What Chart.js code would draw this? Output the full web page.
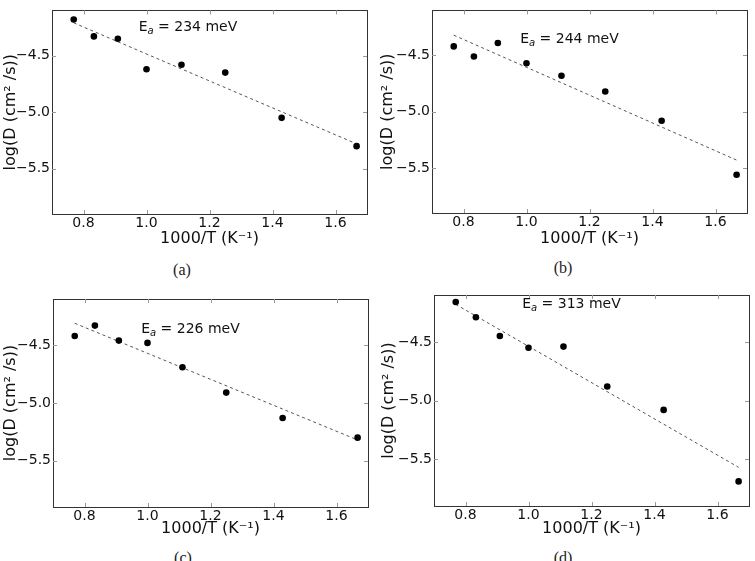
<!DOCTYPE html>
<html>
<head>
<meta charset="utf-8">
<script src="https://cdn.jsdelivr.net/npm/chart.js@4/dist/chart.umd.min.js"></script>
<style>
    body { margin: 0; background: #fff; }
    #page { position: relative; width: 755px; height: 561px; overflow: hidden; }
    .panel { position: absolute; }
    .caption { position: absolute; font-family: "Liberation Serif", "DejaVu Serif", serif; font-size: 16px; color: #222; transform: translate(-50%, -50%); }
</style>
</head>
<body>
<div id="page">
    <canvas id="chart-a" class="panel"></canvas>
    <canvas id="chart-b" class="panel"></canvas>
    <canvas id="chart-c" class="panel"></canvas>
    <canvas id="chart-d" class="panel"></canvas>
    <div class="caption" style="left:182px; top:270px;">(a)</div>
    <div class="caption" style="left:563px; top:268px;">(b)</div>
    <div class="caption" style="left:183px; top:558px;">(c)</div>
    <div class="caption" style="left:563px; top:558px;">(d)</div>
</div>
<script>
// 1000/T values (T = 1300 ... 600 K)
const invT = [0.769, 0.833, 0.909, 1.0, 1.111, 1.25, 1.429, 1.667];

// log10 D
const logD_a = [-4.18, -4.33, -4.35, -4.62, -4.58, -4.65, -5.05, -5.30];
const logD_b = [-4.42, -4.51, -4.39, -4.57, -4.68, -4.82, -5.08, -5.56];
const logD_c = [-4.42, -4.33, -4.46, -4.48, -4.69, -4.91, -5.13, -5.30];
const logD_d = [-4.16, -4.29, -4.45, -4.55, -4.54, -4.88, -5.08, -5.69];

// Arrhenius fit lines, value at first and last 1000/T
const fitX = [0.769, 1.667];
const fit_a = [-4.21, -5.28];
const fit_b = [-4.32, -5.43];
const fit_c = [-4.31, -5.32];
const fit_d = [-4.18, -5.57];

const activation = ['234', '244', '226', '313'];

const xTicks = [0.8, 1.0, 1.2, 1.4, 1.6];
const yTicks = [-4.5, -5.0, -5.5];

const xTitle = '1000/T (K\u207B\u00B9)';
const yTitle = 'log(D (cm\u00B2 /s))';

const FONT = '"DejaVu Sans", sans-serif';

// canvas placement and plot box for each panel
const panels = [
    { id: 'chart-a', y: logD_a, fit: fit_a, ea: activation[0], eaAt: [0.975, -4.28],
      left: 0, top: 0, w: 375, h: 248, pad: { left: 1, top: 6, right: 8, bottom: 0 }, yw: 51, xh: 34 },
    { id: 'chart-b', y: logD_b, fit: fit_b, ea: activation[1], eaAt: [0.98, -4.39],
      left: 375, top: 0, w: 380, h: 248, pad: { left: 3, top: 2, right: 8, bottom: 0 }, yw: 54, xh: 35 },
    { id: 'chart-c', y: logD_c, fit: fit_c, ea: activation[2], eaAt: [0.98, -4.39],
      left: 0, top: 280, w: 375, h: 258, pad: { left: 1, top: 19, right: 7, bottom: 0 }, yw: 52, xh: 31 },
    { id: 'chart-d', y: logD_d, fit: fit_d, ea: activation[3], eaAt: [0.98, -4.21],
      left: 375, top: 280, w: 380, h: 258, pad: { left: 4, top: 15, right: 6, bottom: 0 }, yw: 55, xh: 32 },
];

// frame + inward tick marks, like a classic matplotlib axes
const framePlugin = {
    id: 'frame',
    afterDraw(chart) {
        const { ctx, chartArea: a, scales } = chart;
        ctx.save();
        ctx.strokeStyle = '#333';
        ctx.lineWidth = 1;
        ctx.strokeRect(Math.round(a.left) + 0.5, Math.round(a.top) + 0.5,
            Math.round(a.right - a.left), Math.round(a.bottom - a.top));
        ctx.strokeStyle = '#999';
        ctx.beginPath();
        scales.x.ticks.forEach(t => {
            const px = Math.round(scales.x.getPixelForValue(t.value)) + 0.5;
            ctx.moveTo(px, a.bottom); ctx.lineTo(px, a.bottom - 4);
            ctx.moveTo(px, a.top); ctx.lineTo(px, a.top + 4);
        });
        scales.y.ticks.forEach(t => {
            const py = Math.round(scales.y.getPixelForValue(t.value)) + 0.5;
            ctx.moveTo(a.left, py); ctx.lineTo(a.left + 4, py);
            ctx.moveTo(a.right, py); ctx.lineTo(a.right - 4, py);
        });
        ctx.stroke();
        ctx.restore();
    }
};

// "E_a = ... meV" label
const eaPlugin = {
    id: 'eaLabel',
    afterDraw(chart, args, opts) {
        const { ctx, scales } = chart;
        let x = scales.x.getPixelForValue(opts.at[0]);
        const y = scales.y.getPixelForValue(opts.at[1]);
        ctx.save();
        ctx.fillStyle = '#111';
        ctx.textBaseline = 'alphabetic';
        ctx.font = '14px ' + FONT;
        ctx.fillText('E', x, y);
        x += ctx.measureText('E').width;
        ctx.font = 'italic 10px ' + FONT;
        ctx.fillText('a', x, y + 3);
        x += ctx.measureText('a').width;
        ctx.font = '14px ' + FONT;
        ctx.fillText(' = ' + opts.value + ' meV', x, y);
        ctx.restore();
    }
};

const fmt = v => (v < 0 ? '\u2212' : '') + Math.abs(v).toFixed(1);

const makeChart = (p) => {
    const canvas = document.getElementById(p.id);
    canvas.width = p.w;
    canvas.height = p.h;
    canvas.style.left = p.left + 'px';
    canvas.style.top = p.top + 'px';
    canvas.style.width = p.w + 'px';
    canvas.style.height = p.h + 'px';

    return new Chart(canvas.getContext('2d'), {
        type: 'scatter',
        data: {
            datasets: [
                {
                    data: invT.map((x, i) => ({ x: x, y: p.y[i] })),
                    backgroundColor: '#000',
                    borderColor: '#000',
                    pointRadius: 3.3,
                    pointBorderWidth: 0,
                    showLine: false,
                },
                {
                    data: fitX.map((x, i) => ({ x: x, y: p.fit[i] })),
                    showLine: true,
                    borderColor: '#555',
                    borderWidth: 1,
                    borderDash: [3, 3],
                    pointRadius: 0,
                },
            ]
        },
        options: {
            responsive: false,
            animation: false,
            layout: { padding: p.pad },
            scales: {
                x: {
                    type: 'linear',
                    min: 0.7,
                    max: 1.7,
                    afterBuildTicks: s => { s.ticks = xTicks.map(v => ({ value: v })); },
                    afterFit: s => { s.height = p.xh; },
                    grid: { display: false, drawTicks: false },
                    border: { display: false },
                    ticks: { padding: 1, color: '#111', font: { family: FONT, size: 14 }, callback: fmt },
                    title: { display: true, text: xTitle, color: '#111', padding: 0, font: { family: FONT, size: 16 } },
                },
                y: {
                    type: 'linear',
                    min: -5.9,
                    max: -4.1,
                    afterBuildTicks: s => { s.ticks = yTicks.map(v => ({ value: v })); },
                    afterFit: s => { s.width = p.yw; },
                    grid: { display: false, drawTicks: false },
                    border: { display: false },
                    ticks: { padding: 2, color: '#111', font: { family: FONT, size: 14 }, callback: fmt },
                    title: { display: true, text: yTitle, color: '#111', padding: 0, font: { family: FONT, size: 16 } },
                },
            },
            plugins: {
                legend: { display: false },
                tooltip: { enabled: false },
                eaLabel: { at: p.eaAt, value: p.ea },
            }
        },
        plugins: [framePlugin, eaPlugin],
    });
};

panels.forEach(makeChart);
</script>
</body>
</html>
